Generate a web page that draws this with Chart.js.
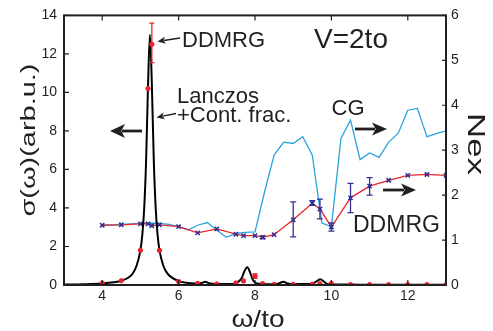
<!DOCTYPE html>
<html>
<head>
<meta charset="utf-8">
<script src="https://cdn.jsdelivr.net/npm/chart.js@4/dist/chart.umd.min.js"></script>
<style>
html,body{margin:0;padding:0;background:#fff;}
#c{display:block;}
</style>
</head>
<body>
<canvas id="c" width="493" height="331"></canvas>
<script>
// ---- data ----
const xTickValues = [4, 6, 8, 10, 12];
const yTickValues = [0, 2, 4, 6, 8, 10, 12, 14];
const y2TickValues = [0, 1, 2, 3, 4, 5, 6];

// Lanczos + continued fraction (black curve), sigma axis
const lanczosX = [3.0,3.5,4.0,4.3,4.5,4.7,4.8,4.9,5.0,5.05,5.1,5.15,5.2,5.25,5.3,5.35,5.4,5.45,5.5,5.6,5.7,5.8,6.0,6.2,6.4,6.6,6.7,6.8,7.0,7.3,7.5,7.65,7.72,7.8,7.88,7.95,8.05,8.3,8.5,8.65,8.74,8.85,9.0,9.3,9.5,9.62,9.71,9.8,9.9,10.1,10.5,11,12,13];
const lanczosY = [0.02,0.04,0.08,0.14,0.22,0.4,0.6,1.0,1.8,2.6,4.0,6.5,10.4,13.0,10.4,6.5,4.0,2.6,1.8,1.0,0.62,0.42,0.2,0.12,0.08,0.1,0.17,0.09,0.05,0.05,0.1,0.35,0.7,0.92,0.6,0.25,0.08,0.04,0.04,0.1,0.17,0.08,0.04,0.05,0.07,0.2,0.3,0.18,0.05,0.02,0.02,0.01,0.01,0.01];

// DDMRG points (shared omega grid)
const ddmrgX = [4,4.5,5,5.2,5.3,5.5,6,6.5,7,7.5,7.7,8,8.2,8.5,9,9.5,9.7,10,10.5,11,11.5,12,12.5,13];
const ddmrgSigma = [0.1,0.22,1.8,10.2,12.5,1.8,0.18,0.08,0.05,0.1,0.21,0.46,0.07,0.03,0.03,0.04,0.06,0.08,0.02,0.02,0.02,0.02,0.02,0.02];
const ddmrgNex = [1.33,1.34,1.36,1.36,1.32,1.34,1.30,1.16,1.25,1.13,1.10,1.10,1.06,1.12,1.45,1.82,1.69,1.29,1.94,2.20,2.33,2.44,2.46,2.44];

// error bars
const sigmaErrX = [5.3, 8.0];
const sigmaErrLow = [11.55, 0.35];
const sigmaErrHigh = [13.6, 0.57];
const nexErrX = [8.2, 9.0, 9.5, 9.7, 10.0, 10.5, 11.0];
const nexErrLow = [1.03, 1.07, 1.77, 1.47, 1.20, 1.61, 2.00];
const nexErrHigh = [1.09, 1.85, 1.88, 1.91, 1.38, 2.26, 2.39];

// CG (light blue), Nex axis
const cgX = [4,4.25,4.5,4.75,5,5.25,5.5,5.75,6,6.25,6.5,6.75,7,7.25,7.5,7.75,8,8.25,8.5,8.75,9,9.25,9.5,9.75,10,10.25,10.5,10.75,11,11.25,11.5,11.75,12,12.25,12.5,12.75,13];
const cgNex = [1.34,1.34,1.35,1.36,1.37,1.38,1.37,1.35,1.30,1.23,1.33,1.39,1.22,1.06,1.15,1.17,1.18,2.07,2.89,3.18,3.15,3.30,2.89,1.38,1.30,3.26,3.67,2.79,2.94,2.84,3.18,3.38,3.89,3.93,3.30,3.37,3.43];

// ---- styles ----
const INK = '#231f20';
const RED = '#e8262c';
const CGBLUE = '#2aa3dc';
const NAVY = '#2e3192';
const FONT = '"Liberation Sans", Arial, Helvetica, sans-serif';

const zip = (xs, ys) => xs.map((v, i) => ({x: v, y: ys[i]}));

function arrow(ctx, x1, y1, x2, y2, lw, hl, hw) {
  const a = Math.atan2(y2 - y1, x2 - x1);
  ctx.save();
  ctx.strokeStyle = INK; ctx.fillStyle = INK; ctx.lineWidth = lw;
  ctx.beginPath();
  ctx.moveTo(x1, y1);
  ctx.lineTo(x2 - Math.cos(a) * hl * 0.8, y2 - Math.sin(a) * hl * 0.8);
  ctx.stroke();
  ctx.translate(x2, y2); ctx.rotate(a);
  ctx.beginPath();
  ctx.moveTo(0, 0);
  ctx.lineTo(-hl, -hw);
  ctx.lineTo(-hl * 0.75, 0);
  ctx.lineTo(-hl, hw);
  ctx.closePath();
  ctx.fill();
  ctx.restore();
}

function stretched(ctx, text, cx, cy, rot, size, len, baseOff) {
  ctx.save();
  ctx.translate(cx, cy);
  ctx.rotate(rot);
  ctx.font = size + 'px ' + FONT;
  const w = ctx.measureText(text).width;
  ctx.scale(len / w, 1);
  ctx.textAlign = 'center';
  ctx.textBaseline = 'alphabetic';
  ctx.fillStyle = INK;
  ctx.fillText(text, 0, baseOff);
  ctx.restore();
}

function label(ctx, text, x, y, size) {
  ctx.save();
  ctx.font = size + 'px ' + FONT;
  ctx.fillStyle = INK;
  ctx.textAlign = 'left';
  ctx.textBaseline = 'alphabetic';
  ctx.fillText(text, x, y);
  ctx.restore();
}

const overlay = {
  id: 'overlay',
  afterDatasetsDraw(chart) {
    const ctx = chart.ctx;
    const {x, y, y2} = chart.scales;
    const bar = (xv, lo, hi, scale, color, lw, cap) => {
      const px = x.getPixelForValue(xv);
      const p1 = scale.getPixelForValue(lo), p2 = scale.getPixelForValue(hi);
      ctx.save();
      ctx.strokeStyle = color; ctx.lineWidth = lw;
      ctx.beginPath();
      ctx.moveTo(px, p1); ctx.lineTo(px, p2);
      ctx.moveTo(px - cap, p1); ctx.lineTo(px + cap, p1);
      ctx.moveTo(px - cap, p2); ctx.lineTo(px + cap, p2);
      ctx.stroke();
      ctx.restore();
    };
    sigmaErrX.forEach((xv, i) => bar(xv, sigmaErrLow[i], sigmaErrHigh[i], y, RED, 1.3, 2.5));
    nexErrX.forEach((xv, i) => bar(xv, nexErrLow[i], nexErrHigh[i], y2, NAVY, 1.3, 3));
  },
  afterDraw(chart) {
    const ctx = chart.ctx;
    const {x, y, y2} = chart.scales;
    const a = chart.chartArea;
    ctx.save();
    // inward tick marks
    ctx.strokeStyle = INK; ctx.lineWidth = 1.2;
    ctx.beginPath();
    xTickValues.forEach(v => {
      const px = x.getPixelForValue(v);
      ctx.moveTo(px, a.bottom); ctx.lineTo(px, a.bottom - 5);
      ctx.moveTo(px, a.top); ctx.lineTo(px, a.top + 5);
    });
    yTickValues.forEach(v => {
      const py = y.getPixelForValue(v);
      ctx.moveTo(a.left, py); ctx.lineTo(a.left + 5, py);
    });
    y2TickValues.forEach(v => {
      const py = y2.getPixelForValue(v);
      ctx.moveTo(a.right, py); ctx.lineTo(a.right - 4, py);
    });
    ctx.stroke();
    // frame
    ctx.lineWidth = 2;
    ctx.strokeRect(a.left, a.top, a.right - a.left, a.bottom - a.top);
    ctx.restore();

    // axis titles
    stretched(ctx, 'σ(ω)(arb.u.)', 29, 140, -Math.PI / 2, 21, 153, 5.5);
    stretched(ctx, 'Nex', 476.5, 144, Math.PI / 2, 23, 62, 8.3);
    stretched(ctx, 'ω/to', 258, 326.5, 0, 24, 53, 0);

    // annotations
    label(ctx, 'DDMRG', 182, 47, 22);
    arrow(ctx, 180, 38, 157.5, 41.5, 1.3, 8, 3.5);
    label(ctx, 'V=2to', 314, 48.3, 28);
    label(ctx, 'Lanczos', 177, 103, 22);
    label(ctx, '+Cont. frac.', 177, 121.5, 22);
    arrow(ctx, 176, 113.5, 156.5, 117.5, 1.3, 8, 3.5);
    arrow(ctx, 142, 131, 110, 131, 2.8, 15, 7);
    label(ctx, 'CG', 331.5, 115, 22);
    arrow(ctx, 355, 129, 387, 129, 2.8, 15, 6.5);
    arrow(ctx, 383, 190, 416, 190, 2.8, 15, 6.5);
    label(ctx, 'DDMRG', 353, 231.5, 23);
  }
};

const tickFont = {family: FONT, size: 14};

new Chart(document.getElementById('c'), {
  type: 'line',
  data: {
    datasets: [
      {
        label: 'DDMRG σ',
        data: zip(ddmrgX, ddmrgSigma),
        yAxisID: 'y',
        showLine: false,
        pointStyle: 'circle',
        pointRadius: 2.2,
        pointBackgroundColor: RED,
        pointBorderColor: RED,
        borderColor: RED,
        order: 0
      },
      {
        label: 'Lanczos',
        data: zip(lanczosX, lanczosY),
        yAxisID: 'y',
        borderColor: '#000',
        borderWidth: 2,
        pointRadius: 0,
        cubicInterpolationMode: 'monotone',
        fill: false,
        order: 1
      },
      {
        label: 'DDMRG Nex',
        data: zip(ddmrgX, ddmrgNex),
        yAxisID: 'y2',
        borderColor: RED,
        borderWidth: 1.3,
        tension: 0,
        pointStyle: 'crossRot',
        pointRadius: 3,
        pointBorderWidth: 1.6,
        pointBorderColor: NAVY,
        pointBackgroundColor: NAVY,
        fill: false,
        order: 2
      },
      {
        label: 'CG',
        data: zip(cgX, cgNex),
        yAxisID: 'y2',
        borderColor: CGBLUE,
        borderWidth: 1.3,
        tension: 0,
        pointRadius: 0,
        fill: false,
        order: 3
      }
    ]
  },
  options: {
    responsive: false,
    animation: false,
    devicePixelRatio: 1,
    layout: {padding: {top: 15, left: 0, right: 0, bottom: 0}},
    plugins: {legend: {display: false}, tooltip: {enabled: false}},
    scales: {
      x: {
        type: 'linear', min: 3, max: 13,
        grid: {display: false, drawTicks: false},
        border: {display: false},
        afterBuildTicks: s => { s.ticks = xTickValues.map(v => ({value: v})); },
        ticks: {font: tickFont, color: INK, padding: 3, maxRotation: 0},
        afterFit: s => { s.height = 46; }
      },
      y: {
        type: 'linear', position: 'left', min: 0, max: 14,
        grid: {display: false, drawTicks: false},
        border: {display: false},
        afterBuildTicks: s => { s.ticks = yTickValues.map(v => ({value: v})); },
        ticks: {font: tickFont, color: INK, padding: 7},
        afterFit: s => { s.width = 64; }
      },
      y2: {
        type: 'linear', position: 'right', min: 0, max: 6,
        grid: {display: false, drawTicks: false},
        border: {display: false},
        afterBuildTicks: s => { s.ticks = y2TickValues.map(v => ({value: v})); },
        ticks: {font: tickFont, color: INK, padding: 5},
        afterFit: s => { s.width = 47; }
      }
    }
  },
  plugins: [overlay]
});
</script>
</body>
</html>
